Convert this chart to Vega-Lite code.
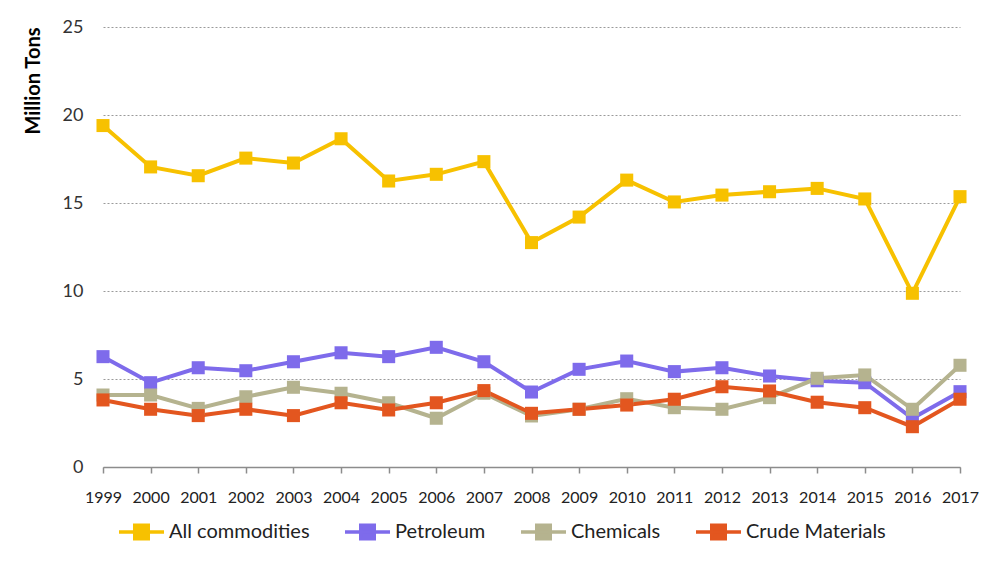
{
  "$schema": "https://vega.github.io/schema/vega-lite/v6.json",
  "autosize": "none",
  "width": 857,
  "height": 440,
  "padding": {"left": 103, "top": 27, "right": 22, "bottom": 98},
  "background": "white",
  "config": {
    "view": {"stroke": null},
    "font": "Lato"
  },
  "data": {
    "values": [
      {"year": "1999", "series": "All commodities", "value": 19.4},
      {"year": "2000", "series": "All commodities", "value": 17.05},
      {"year": "2001", "series": "All commodities", "value": 16.55},
      {"year": "2002", "series": "All commodities", "value": 17.55},
      {"year": "2003", "series": "All commodities", "value": 17.27},
      {"year": "2004", "series": "All commodities", "value": 18.65},
      {"year": "2005", "series": "All commodities", "value": 16.25},
      {"year": "2006", "series": "All commodities", "value": 16.63},
      {"year": "2007", "series": "All commodities", "value": 17.35},
      {"year": "2008", "series": "All commodities", "value": 12.75},
      {"year": "2009", "series": "All commodities", "value": 14.2},
      {"year": "2010", "series": "All commodities", "value": 16.3},
      {"year": "2011", "series": "All commodities", "value": 15.06},
      {"year": "2012", "series": "All commodities", "value": 15.45},
      {"year": "2013", "series": "All commodities", "value": 15.64},
      {"year": "2014", "series": "All commodities", "value": 15.83},
      {"year": "2015", "series": "All commodities", "value": 15.23},
      {"year": "2016", "series": "All commodities", "value": 9.87},
      {"year": "2017", "series": "All commodities", "value": 15.36},
      {"year": "1999", "series": "Petroleum", "value": 6.27},
      {"year": "2000", "series": "Petroleum", "value": 4.79},
      {"year": "2001", "series": "Petroleum", "value": 5.64},
      {"year": "2002", "series": "Petroleum", "value": 5.47},
      {"year": "2003", "series": "Petroleum", "value": 5.98},
      {"year": "2004", "series": "Petroleum", "value": 6.49},
      {"year": "2005", "series": "Petroleum", "value": 6.27},
      {"year": "2006", "series": "Petroleum", "value": 6.8},
      {"year": "2007", "series": "Petroleum", "value": 5.98},
      {"year": "2008", "series": "Petroleum", "value": 4.26},
      {"year": "2009", "series": "Petroleum", "value": 5.55},
      {"year": "2010", "series": "Petroleum", "value": 6.02},
      {"year": "2011", "series": "Petroleum", "value": 5.42},
      {"year": "2012", "series": "Petroleum", "value": 5.64},
      {"year": "2013", "series": "Petroleum", "value": 5.17},
      {"year": "2014", "series": "Petroleum", "value": 4.9},
      {"year": "2015", "series": "Petroleum", "value": 4.79},
      {"year": "2016", "series": "Petroleum", "value": 2.77},
      {"year": "2017", "series": "Petroleum", "value": 4.28},
      {"year": "1999", "series": "Chemicals", "value": 4.09},
      {"year": "2000", "series": "Chemicals", "value": 4.09},
      {"year": "2001", "series": "Chemicals", "value": 3.33},
      {"year": "2002", "series": "Chemicals", "value": 3.99},
      {"year": "2003", "series": "Chemicals", "value": 4.53},
      {"year": "2004", "series": "Chemicals", "value": 4.19},
      {"year": "2005", "series": "Chemicals", "value": 3.65},
      {"year": "2006", "series": "Chemicals", "value": 2.77},
      {"year": "2007", "series": "Chemicals", "value": 4.19},
      {"year": "2008", "series": "Chemicals", "value": 2.9},
      {"year": "2009", "series": "Chemicals", "value": 3.28},
      {"year": "2010", "series": "Chemicals", "value": 3.88},
      {"year": "2011", "series": "Chemicals", "value": 3.37},
      {"year": "2012", "series": "Chemicals", "value": 3.28},
      {"year": "2013", "series": "Chemicals", "value": 3.94},
      {"year": "2014", "series": "Chemicals", "value": 5.04},
      {"year": "2015", "series": "Chemicals", "value": 5.23},
      {"year": "2016", "series": "Chemicals", "value": 3.28},
      {"year": "2017", "series": "Chemicals", "value": 5.78},
      {"year": "1999", "series": "Crude Materials", "value": 3.81},
      {"year": "2000", "series": "Crude Materials", "value": 3.28},
      {"year": "2001", "series": "Crude Materials", "value": 2.92},
      {"year": "2002", "series": "Crude Materials", "value": 3.28},
      {"year": "2003", "series": "Crude Materials", "value": 2.92},
      {"year": "2004", "series": "Crude Materials", "value": 3.65},
      {"year": "2005", "series": "Crude Materials", "value": 3.24},
      {"year": "2006", "series": "Crude Materials", "value": 3.65},
      {"year": "2007", "series": "Crude Materials", "value": 4.34},
      {"year": "2008", "series": "Crude Materials", "value": 3.05},
      {"year": "2009", "series": "Crude Materials", "value": 3.28},
      {"year": "2010", "series": "Crude Materials", "value": 3.52},
      {"year": "2011", "series": "Crude Materials", "value": 3.85},
      {"year": "2012", "series": "Crude Materials", "value": 4.56},
      {"year": "2013", "series": "Crude Materials", "value": 4.32},
      {"year": "2014", "series": "Crude Materials", "value": 3.68},
      {"year": "2015", "series": "Crude Materials", "value": 3.37},
      {"year": "2016", "series": "Crude Materials", "value": 2.29},
      {"year": "2017", "series": "Crude Materials", "value": 3.85}
    ]
  },
  "mark": {
    "type": "line",
    "strokeWidth": 4,
    "point": {"shape": "square", "size": 170, "filled": true, "opacity": 1}
  },
  "encoding": {
    "x": {
      "field": "year",
      "type": "ordinal",
      "scale": {"type": "point", "padding": 0},
      "axis": {
        "title": null,
        "labelAngle": 0,
        "labelFontSize": 16,
        "labelColor": "#222222",
        "labelPadding": 16,
        "domainColor": "#8c8c8c",
        "domainWidth": 1.5,
        "tickColor": "#8c8c8c",
        "tickSize": 6,
        "tickWidth": 1.5,
        "grid": false
      }
    },
    "y": {
      "field": "value",
      "type": "quantitative",
      "scale": {"domain": [0, 25], "nice": false},
      "axis": {
        "values": [0, 5, 10, 15, 20, 25],
        "title": "Million Tons",
        "titleFontSize": 20,
        "titleFontWeight": "bold",
        "titleColor": "#000000",
        "titleAnchor": "end",
        "titleAngle": -90,
        "titleAlign": "right",
        "titleBaseline": "middle",
        "titleX": -70,
        "titleY": 0,
        "labelFontSize": 18,
        "labelColor": "#333333",
        "labelPadding": 20,
        "domain": false,
        "ticks": false,
        "grid": true,
        "gridColor": "#9a9a9a",
        "gridDash": [2, 2],
        "gridWidth": 1
      }
    },
    "color": {
      "field": "series",
      "type": "nominal",
      "sort": ["All commodities", "Petroleum", "Chemicals", "Crude Materials"],
      "scale": {
        "domain": ["All commodities", "Petroleum", "Chemicals", "Crude Materials"],
        "range": ["#F7C100", "#7E6BEB", "#B5B38F", "#E3561F"]
      },
      "legend": {
        "title": null,
        "orient": "none",
        "direction": "horizontal",
        "legendX": 14,
        "legendY": 480,
        "labelFontSize": 20,
        "labelColor": "#222222",
        "labelOffset": 3,
        "columnPadding": 28,
        "symbolType": "M-1,0H1M-0.3,-0.3H0.3V0.3H-0.3Z",
        "symbolSize": 2025,
        "symbolStrokeWidth": 3.5,
        "symbolOpacity": 1
      }
    },
    "order": {"field": "year"}
  }
}
